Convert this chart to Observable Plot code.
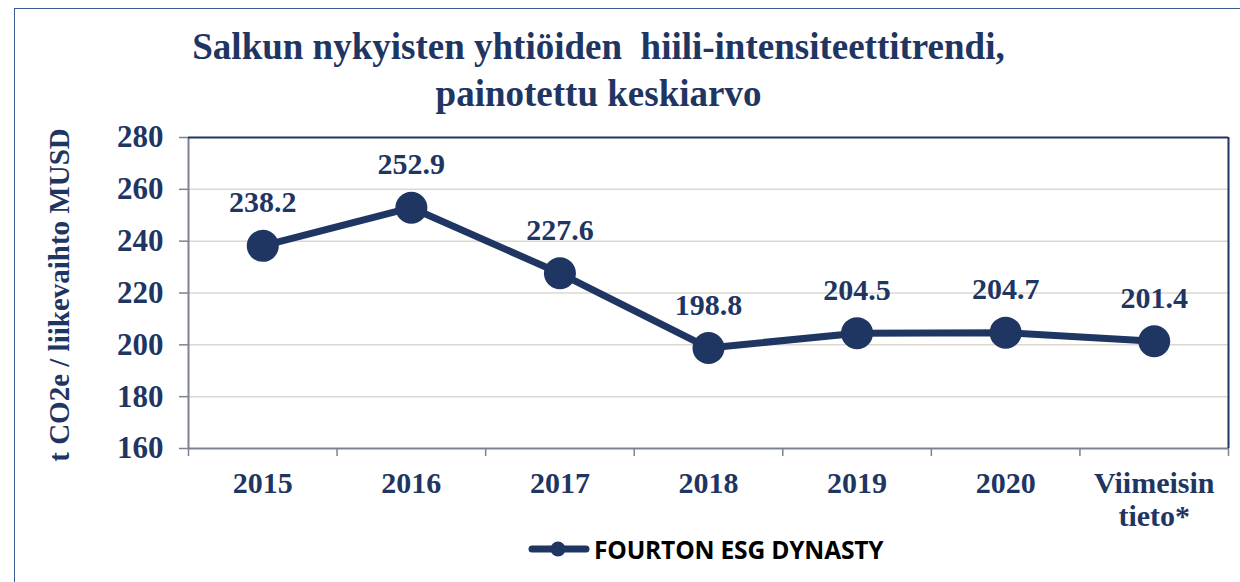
<!DOCTYPE html>
<html>
<head>
<meta charset="utf-8">
<script src="https://cdn.jsdelivr.net/npm/d3@7"></script>
<script src="https://cdn.jsdelivr.net/npm/@observablehq/plot@0.6"></script>
<style>
  html, body { margin: 0; padding: 0; background: #fff; overflow: hidden; }
  #wrap { position: relative; width: 1240px; height: 582px; overflow: hidden; }
  #border { position: absolute; left: 14px; top: 8px; width: 1400px; height: 800px; border: 1.5px solid #3e5a92; box-sizing: border-box; }
  #chart { position: absolute; left: 0; top: 0; }
  #legend { position: absolute; left: 528px; top: 532px; height: 34px; display: flex; align-items: center; }
  #legend span { font-family: "Open Sans", sans-serif; font-weight: 700; font-size: 24.6px; color: #000; margin-left: 4px; letter-spacing: -0.2px; }
</style>
</head>
<body>
<div id="wrap">
  <div id="border"></div>
  <div id="chart"></div>
  <div id="legend">
    <svg width="62" height="34"><line x1="4" y1="17" x2="58" y2="17" stroke="#1f3562" stroke-width="7" stroke-linecap="round"/><circle cx="30" cy="17" r="7.5" fill="#1f3562"/></svg>
    <span>FOURTON ESG DYNASTY</span>
  </div>
</div>
<script>
const categories = ["2015", "2016", "2017", "2018", "2019", "2020", "Viimeisin\ntieto*"];
const values = [238.2, 252.9, 227.6, 198.8, 204.5, 204.7, 201.4];
const yTicks = [160, 180, 200, 220, 240, 260, 280];
const title = "Salkun nykyisten yhtiöiden  hiili-intensiteettitrendi,\npainotettu keskiarvo";
const yLabel = "t CO2e / liikevaihto MUSD";

const navy = "#1f3562";
const gray = "#7d8290";
const grid = "#dcd7d0";

const data = categories.map((c, i) => ({ pos: i + 0.5, cat: c, v: values[i] }));

const chart = Plot.plot({
  width: 1240,
  height: 582,
  marginLeft: 188,
  marginRight: 12,
  marginTop: 137,
  marginBottom: 134,
  style: { fontFamily: "'Liberation Serif', 'Times New Roman', serif", background: "transparent", overflow: "visible" },
  x: { type: "linear", domain: [0, categories.length], axis: null },
  y: { domain: [160, 280], axis: null },
  marks: [
    Plot.ruleY(yTicks.slice(1, -1), { stroke: grid, strokeWidth: 1.5 }),
    Plot.axisY({ ticks: yTicks, tickSize: 9, tickPadding: 16, stroke: gray, strokeWidth: 1.5, fill: navy, fontSize: 31, fontWeight: "bold", label: null, tickFormat: d => String(d) }),
    Plot.axisX({ ticks: d3.range(categories.length + 1), tickSize: 8, tickFormat: () => "", stroke: gray, strokeWidth: 1.5, label: null }),
    Plot.ruleX([0], { stroke: gray, strokeWidth: 2 }),
    Plot.ruleY([160], { stroke: gray, strokeWidth: 2 }),
    Plot.ruleY([280], { stroke: navy, strokeWidth: 2 }),
    Plot.ruleX([categories.length], { stroke: navy, strokeWidth: 2 }),
    Plot.line(data, { x: "pos", y: "v", stroke: navy, strokeWidth: 7 }),
    Plot.dot(data, { x: "pos", y: "v", r: 16, fill: navy }),
    Plot.text(data, { x: "pos", y: "v", text: d => d.v.toFixed(1), dy: -43, fontSize: 30, fontWeight: "bold", fill: navy }),
    Plot.text(data, { x: "pos", text: "cat", frameAnchor: "bottom", lineAnchor: "top", dy: 21, lineHeight: 1.1, fontSize: 30, fontWeight: "bold", fill: navy }),
    Plot.text([title], { frameAnchor: "top", dx: -110, dy: -70, lineAnchor: "middle", lineHeight: 1.27, fontSize: 37, fontWeight: "bold", fill: navy }),
    Plot.text([yLabel], { frameAnchor: "left", dx: -129, dy: 2, rotate: -90, textAnchor: "middle", fontSize: 29, fontWeight: "bold", fill: navy })
  ]
});
document.getElementById("chart").appendChild(chart);
</script>
</body>
</html>
